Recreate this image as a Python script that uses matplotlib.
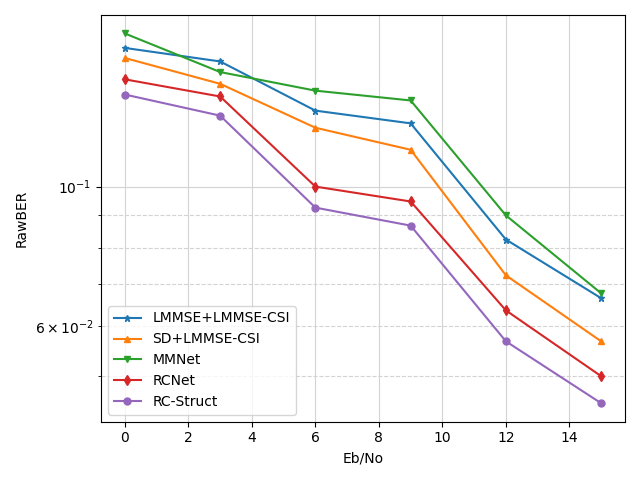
import matplotlib
matplotlib.use("Agg")
import matplotlib.pyplot as plt

ebno = [0, 3, 6, 9, 12, 15]
lmmse = [0.166, 0.158, 0.132, 0.126, 0.0824, 0.0665]
sd = [0.160, 0.1456, 0.124, 0.1144, 0.0723, 0.0568]
mmnet = [0.175, 0.152, 0.142, 0.137, 0.090, 0.0677]
rcnet = [0.148, 0.139, 0.100, 0.0947, 0.0636, 0.050]
rcstruct = [0.140, 0.1296, 0.0926, 0.0867, 0.0568, 0.0453]

labels = ["LMMSE+LMMSE-CSI", "SD+LMMSE-CSI", "MMNet", "RCNet", "RC-Struct"]
series = [lmmse, sd, mmnet, rcnet, rcstruct]
markers = ["*", "^", "v", "d", "o"]

fig, ax = plt.subplots(figsize=(6.4, 4.8), dpi=100)
for y, lab, m in zip(series, labels, markers):
    ax.plot(ebno, y, marker=m, markersize=5, label=lab)
ax.set_yscale("log")
ax.grid(True, which="major", color="#d3d3d3", linestyle="-")
ax.grid(True, which="minor", axis="y", color="#d3d3d3", linestyle="--")
ax.set_xlabel("Eb/No")
ax.set_ylabel("RawBER")
ax.legend(loc="lower left")
fig.tight_layout()
fig.savefig("out.png")
